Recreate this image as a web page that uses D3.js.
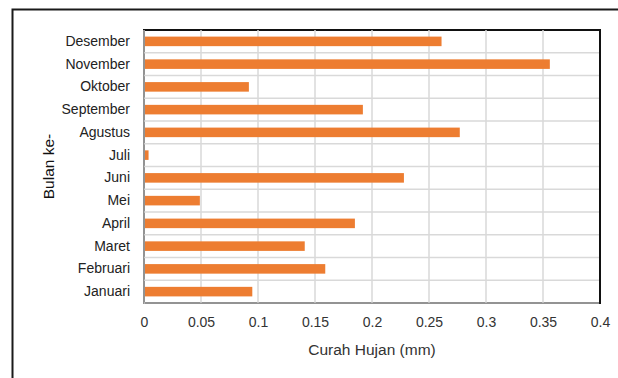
<!DOCTYPE html>
<html><head><meta charset="utf-8">
<script src="https://cdn.jsdelivr.net/npm/d3@7"></script>
<style>body{margin:0;background:#fff}svg{display:block}</style>
</head><body>
<script>
const months = ["Januari","Februari","Maret","April","Mei","Juni","Juli","Agustus","September","Oktober","November","Desember"];
const rainfall = [0.095,0.159,0.141,0.185,0.049,0.228,0.004,0.277,0.192,0.092,0.356,0.261];
const xTicks = [0,0.05,0.1,0.15,0.2,0.25,0.3,0.35,0.4];
const xTickLabels = ["0","0.05","0.1","0.15","0.2","0.25","0.3","0.35","0.4"];
const xTitle = "Curah Hujan (mm)";
const yTitle = "Bulan ke-";

const W = 618, H = 378;
const m = {left:144, top:30, right:600, bottom:303};
const font = "'Liberation Sans', Arial, sans-serif";

const svg = d3.select("body").append("svg").attr("width", W).attr("height", H);
svg.append("rect").attr("x",12.5).attr("y",9.5).attr("width",700).attr("height",500)
  .attr("fill","none").attr("stroke","#1a1a1a").attr("stroke-width",2);

const x = d3.scaleLinear().domain([0,0.4]).range([m.left, m.right]);
const y = d3.scaleBand().domain(months.slice().reverse()).range([m.top, m.bottom]).paddingInner(0.58).paddingOuter(0.29);
const band = d3.scaleBand().domain(months.slice().reverse()).range([m.top, m.bottom]);

// plot border
svg.append("rect").attr("x",m.left).attr("y",m.top).attr("width",m.right-m.left).attr("height",m.bottom-m.top)
  .attr("fill","none").attr("stroke","#111").attr("stroke-width",2);

// vertical gridlines
svg.append("g").selectAll("line").data(xTicks.slice(1,-1)).join("line")
  .attr("x1",d=>x(d)).attr("x2",d=>x(d)).attr("y1",m.top).attr("y2",m.bottom)
  .attr("stroke","#d9d9d9").attr("stroke-width",1.5);
// horizontal gridlines (band boundaries)
svg.append("g").selectAll("line").data(months.slice(0,-1)).join("line")
  .attr("x1",m.left).attr("x2",m.right).attr("y1",d=>band(d)).attr("y2",d=>band(d))
  .attr("stroke","#d9d9d9").attr("stroke-width",1.5);

// axis lines
svg.append("line").attr("x1",m.left).attr("x2",m.left).attr("y1",m.top).attr("y2",m.bottom+1)
  .attr("stroke","#bfbfbf").attr("stroke-width",1.5);
svg.append("line").attr("x1",m.left).attr("x2",m.right).attr("y1",m.bottom).attr("y2",m.bottom)
  .attr("stroke","#bfbfbf").attr("stroke-width",1.5);
svg.append("line").attr("x1",m.right).attr("x2",m.right).attr("y1",m.top-1).attr("y2",m.bottom+1)
  .attr("stroke","#111").attr("stroke-width",2);

// bars
svg.append("g").selectAll("rect").data(months).join("rect")
  .attr("x",x(0)+1).attr("y",d=>y(d)).attr("height",y.bandwidth())
  .attr("width",(d,i)=>x(rainfall[i])-x(0)-1).attr("fill","#ED7D31");

// x axis labels
const xa = svg.append("g").attr("transform",`translate(0,${m.bottom})`)
  .call(d3.axisBottom(x).tickValues(xTicks).tickFormat((d,i)=>xTickLabels[i]).tickSize(0).tickPadding(14));
xa.select(".domain").remove();
xa.selectAll("text").attr("font-family",font).attr("font-size",14).attr("fill","#333");

// y axis labels
const ya = svg.append("g").attr("transform",`translate(${m.left},0)`)
  .call(d3.axisLeft(band).tickSize(0).tickPadding(14));
ya.select(".domain").remove();
ya.selectAll("text").attr("font-family",font).attr("font-size",14).attr("fill","#222");

svg.append("text").attr("x",(m.left+m.right)/2).attr("y",355).attr("text-anchor","middle")
  .attr("font-family",font).attr("font-size",15.5).attr("fill","#333").text(xTitle);
svg.append("text").attr("transform",`translate(54,${(m.top+m.bottom)/2}) rotate(-90)`).attr("text-anchor","middle")
  .attr("font-family",font).attr("font-size",15.5).attr("fill","#111").text(yTitle);
</script>
</body></html>
